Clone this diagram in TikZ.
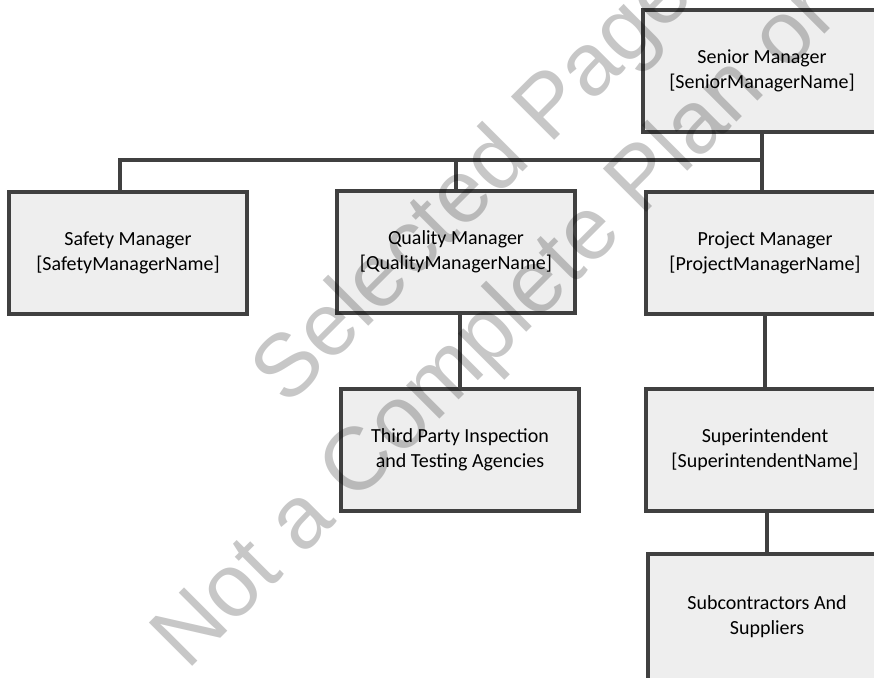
\documentclass[tikz,border=0pt]{standalone}
\usepackage{fontspec}
\setmainfont{Carlito}
\newfontfamily\wmfont{Liberation Sans}
\usetikzlibrary{positioning}
\definecolor{boxline}{HTML}{404040}
\definecolor{boxfill}{HTML}{EEEEEE}

\begin{document}
\begin{tikzpicture}[x=1pt,y=-1pt]
  % some styles
  \tikzset{
    role/.style={
      rectangle,
      minimum width=238pt,
      minimum height=122pt,
      inner sep=0pt,
      align=center,
      font=\fontsize{20}{25}\selectfont,
      line width=4pt,
      draw=boxline,
      fill=boxfill
    }
  }
 \tikzset{link/.style={line width=3.5pt,draw=boxline}}
 \tikzset{stamp/.style={font=\wmfont\fontsize{89}{89}\selectfont,text=black,text opacity=0.22,inner sep=0pt,rotate=45,anchor=base west}}

\path[use as bounding box,clip] (0,0) rectangle (874,677);

% top
\node[role] (senior) at (762,71) {Senior Manager\\{}[SeniorManagerName]};
% second row
\node[role] (safety) at (128,253) {Safety Manager\\{}[SafetyManagerName]};
\node[role] (quality) at (456,252) {Quality Manager\\{}[QualityManagerName]};
\node[role] (project) at (765,253) {Project Manager\\{}[ProjectManagerName]};
% third row
\node[role] (third) at (460,450) {Third Party Inspection\\and Testing Agencies};
\node[role] (supt) at (765,450) {Superintendent\\{}[SuperintendentName]};
% last
\node[role,minimum height=126pt] (subcon) at (767,617) {Subcontractors And\\Suppliers};

\coordinate (bus) at (762,160);
\draw[link] (senior.south) -- (senior.south |- project.north);
\draw[link] ([xshift=-8pt]safety.north) |- (bus);
\draw[link] (quality.north) -- (quality.north |- bus);
\draw[link] (third.north) -- (third.north |- quality.south);
\draw[link] (project.south) -- (project.south |- supt.north);
\draw[link] (subcon.north) -- (subcon.north |- supt.south);

% watermark
\node[stamp] (wmone) at (287,408) {Selected Pages};
\node[stamp] (wmtwo) at (187,672) {Not a Complete Plan or};
      
\end{tikzpicture}
\end{document}
